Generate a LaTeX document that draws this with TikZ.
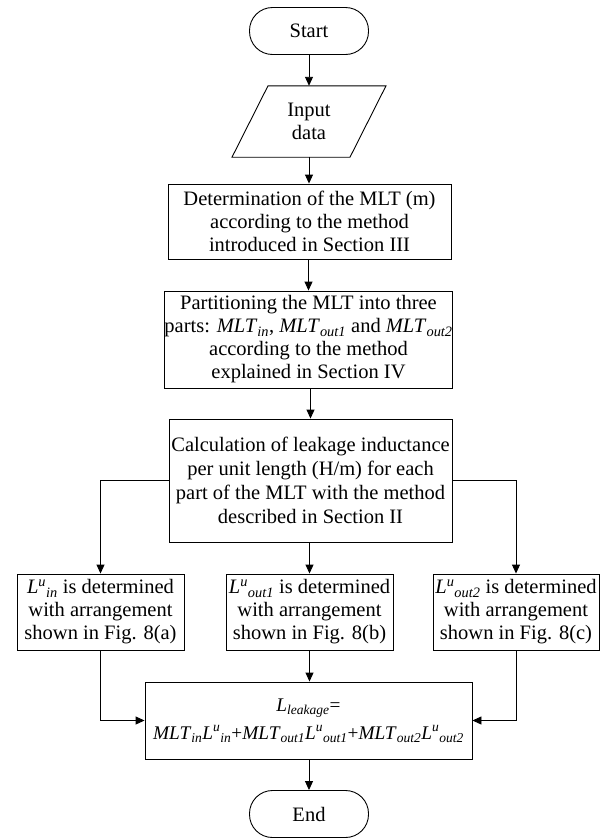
\documentclass[tikz,border=0pt]{standalone}
\usepackage{fontspec}
\setmainfont{Liberation Serif}
\usetikzlibrary{arrows.meta,calc}
\newcommand{\sub}[1]{\textsubscript{\textit{#1}}}
\newcommand{\Lu}[1]{\textit{L}\textsuperscript{\textit{u}}\textsubscript{\textit{#1}}}
\newcommand{\MLT}[1]{\textit{MLT}\textsubscript{\textit{#1}}}
\begin{document}
\begin{tikzpicture}[x=1pt,y=-1pt,
  every node/.style={font=\fontsize{20.5}{23}\selectfont, align=center, inner sep=0pt},
  boxnode/.style={draw, line width=0.9pt, rectangle},
  termnode/.style={draw, line width=0.9pt, rounded corners=23pt, minimum width=119pt, minimum height=47pt},
  conn/.style={line width=0.9pt, -{Triangle[length=9pt,width=8pt]}}]
\useasboundingbox (0,0) rectangle (608,838);
\node[termnode] (start) at (309,31) {Start};
\node[minimum height=71pt, minimum width=100pt] (input) at (309,121.5) {Input\\data};
\draw[line width=0.9pt] ($(input.north)+(-41,0)$) -- ($(input.north)+(77,0)$) -- ($(input.south)+(41,0)$) -- ($(input.south)+(-77,0)$) -- cycle;
\node[boxnode, minimum width=283pt, minimum height=75pt] (b1) at (309.5,221.5) {Determination of the MLT (m)\\according to the method\\introduced in Section III};
\node[boxnode, minimum width=281pt, minimum height=97pt] (b2) at (308.5,339.5) {Partitioning the MLT into three\\parts: \MLT{in}, \MLT{out1} and \MLT{out2}\\according to the method\\explained in Section IV};
\node[boxnode, minimum width=283pt, minimum height=123pt, font=\fontsize{20.5}{24}\selectfont] (b3) at (310.5,480.5) {Calculation of leakage inductance\\per unit length (H/m) for each\\part of the MLT with the method\\described in Section II};
\node[boxnode, minimum width=167pt, minimum height=76pt] (ba) at (100.5,612) {\Lu{in} is determined\\with arrangement\\shown in Fig. 8(a)};
\node[boxnode, minimum width=167pt, minimum height=76pt] (bb) at (309.5,612) {\Lu{out1} is determined\\with arrangement\\shown in Fig. 8(b)};
\node[boxnode, minimum width=166pt, minimum height=76pt] (bc) at (516,612) {\Lu{out2} is determined\\with arrangement\\shown in Fig. 8(c)};
\node[boxnode, minimum width=327pt, minimum height=77pt, font=\fontsize{19.3}{22}\selectfont] (fin) at (308.5,720.5) {\textit{L}\sub{leakage}=\\[6pt]\MLT{in}\Lu{in}+\MLT{out1}\Lu{out1}+\MLT{out2}\Lu{out2}};
\node[termnode] (end) at (309,814) {End};
\draw[conn] (start) -- (input);
\draw[conn] (input) -- (input |- b1.north);
\draw[conn] (b1.south -| b2) -- (b2);
\draw[conn] (b2.south -| b3) -- (b3);
\draw[conn] (b3.west) -| (ba.north);
\draw[conn] (b3.south -| bb) -- (bb);
\draw[conn] (b3.east) -| (bc.north);
\draw[conn] (ba.south) |- (fin.west);
\draw[conn] (bb.south) -- (fin.north -| bb);
\draw[conn] (bc.south) |- (fin.east);
\draw[conn] (fin.south -| end) -- (end);
\end{tikzpicture}
\end{document}
